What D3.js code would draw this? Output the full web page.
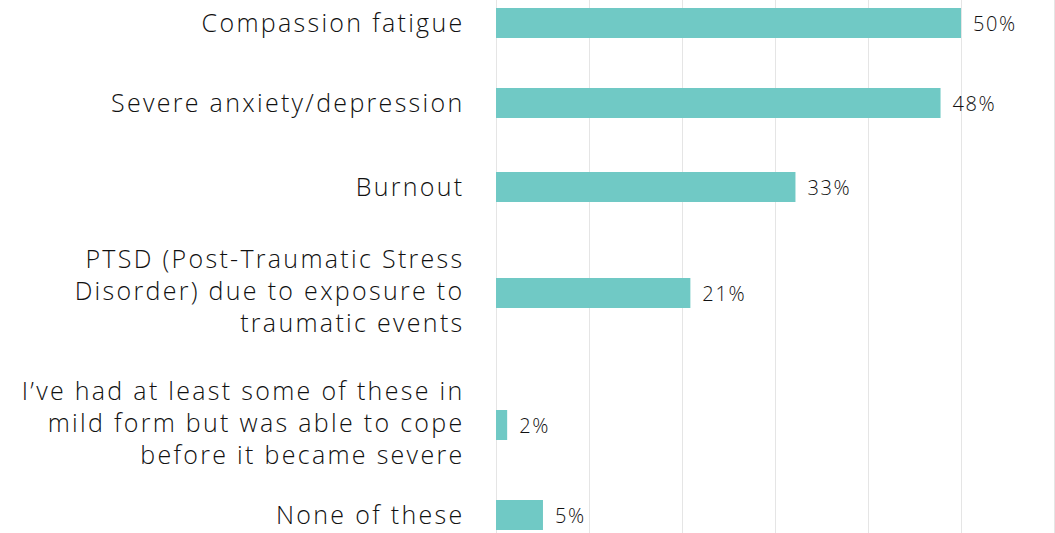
<!DOCTYPE html>
<html><head><meta charset="utf-8">
<script src="https://cdn.jsdelivr.net/npm/d3@7"></script>
<style>
html,body{margin:0;padding:0;background:#fff;}
svg{display:block;}
</style></head>
<body>
<svg id="chart" width="1055" height="533"></svg>
<script>
// ---- data ----
const categories = [
  ["Compassion fatigue"],
  ["Severe anxiety/depression"],
  ["Burnout"],
  ["PTSD (Post-Traumatic Stress", "Disorder) due to exposure to", "traumatic events"],
  ["I\u2019ve had at least some of these in", "mild form but was able to cope", "before it became severe"],
  ["None of these"]
];
const values = [50, 47.8, 32.2, 20.9, 1.2, 5.05];
const valueLabels = ["50%", "48%", "33%", "21%", "2%", "5%"];
const gridTicks = [0, 10, 20, 30, 40, 50, 60];

// ---- layout ----
const W = 1055, H = 533;
const rowWeight = [78, 82, 86, 126, 138, 42];
const xLeft = 496, xRight = 1054;
const labelX = 464.5;
const barH = 30;

const svg = d3.select("#chart");
const x = d3.scaleLinear().domain([0, 60]).range([xLeft, xRight]);

const cum = [0];
rowWeight.forEach(w => cum.push(cum[cum.length-1] + w));
const yU = d3.scaleLinear().domain([0, cum[cum.length-1]]).range([-16, cum[cum.length-1]-16]);
const yc = i => yU(cum[i] + rowWeight[i]/2);

// grid
svg.append("g").selectAll("line").data(gridTicks).join("line")
  .attr("x1", d => Math.round(x(d)) + 0.5).attr("x2", d => Math.round(x(d)) + 0.5)
  .attr("y1", 0).attr("y2", H)
  .attr("stroke", "#e5e5e5").attr("stroke-width", 1);

// bars
svg.append("g").selectAll("rect").data(values).join("rect")
  .attr("x", x(0)).attr("y", (d, i) => yc(i) - barH/2)
  .attr("width", d => x(d) - x(0)).attr("height", barH)
  .attr("fill", "#70c9c5");

// value labels
svg.append("g").selectAll("text").data(values).join("text")
  .attr("x", d => x(d) + 12).attr("y", (d, i) => yc(i))
  .attr("dominant-baseline", "central")
  .attr("font-family", "'Open Sans', sans-serif").attr("font-weight", 300)
  .attr("font-size", 20).attr("letter-spacing", 1.6).attr("fill", "#111")
  .text((d, i) => valueLabels[i]);

// category labels
const lineH = 32;
const lab = svg.append("g").selectAll("text").data(categories).join("text")
  .attr("text-anchor", "end")
  .attr("font-family", "'Open Sans', sans-serif").attr("font-weight", 300)
  .attr("font-size", 25).attr("letter-spacing", 2.3).attr("fill", "#111");
lab.each(function(lines, i) {
  const t = d3.select(this);
  const c = yc(i) - (lines.length > 1 ? 3 : 1);
  lines.forEach((ln, k) => {
    t.append("tspan").attr("x", labelX)
      .attr("y", c + (k - (lines.length-1)/2) * lineH)
      .attr("dominant-baseline", "central")
      .text(ln);
  });
});
</script>
</body></html>
